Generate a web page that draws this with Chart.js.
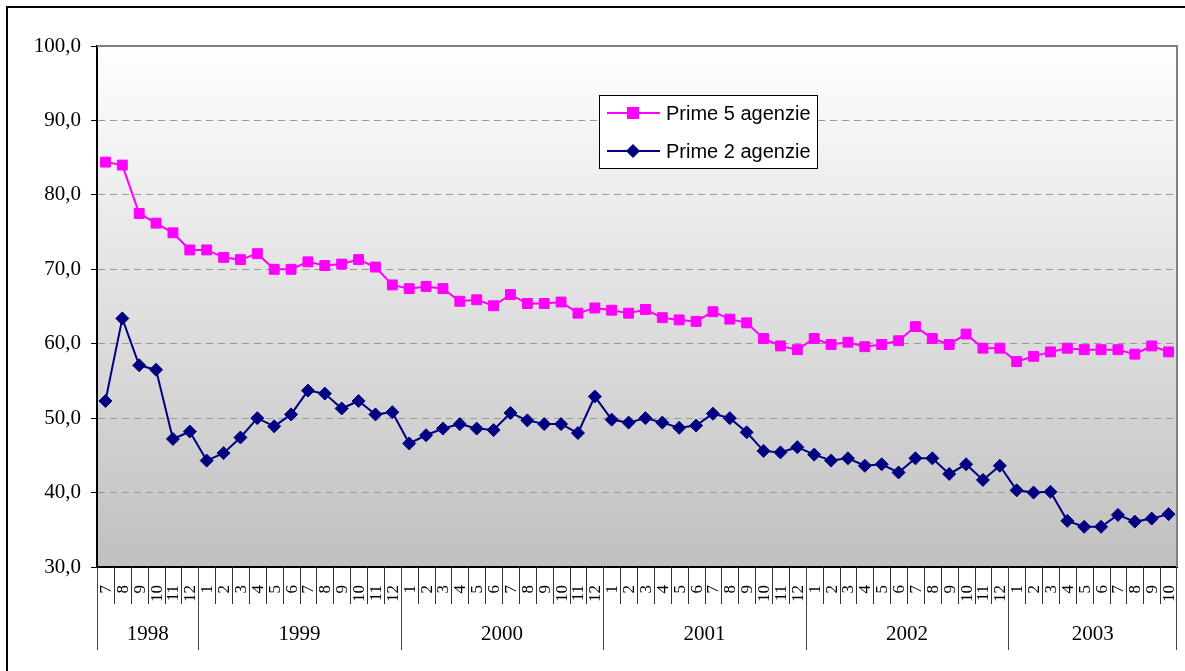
<!DOCTYPE html>
<html>
<head>
<meta charset="utf-8">
<script src="https://cdn.jsdelivr.net/npm/chart.js@4/dist/chart.umd.min.js"></script>
<style>
  html, body { margin: 0; padding: 0; background: #fff; }
  #wrap { width: 1185px; height: 671px; position: relative; }
</style>
</head>
<body>
<div id="wrap"><canvas id="myChart" width="1185" height="671"></canvas></div>
<script>
// data (share %, monthly)
const years = ['1998', '1999', '2000', '2001', '2002', '2003'];
const monthsInYear = [6, 12, 12, 12, 12, 10];
const months = [
    '7', '8', '9', '10', '11', '12',
    '1', '2', '3', '4', '5', '6', '7', '8', '9', '10', '11', '12',
    '1', '2', '3', '4', '5', '6', '7', '8', '9', '10', '11', '12',
    '1', '2', '3', '4', '5', '6', '7', '8', '9', '10', '11', '12',
    '1', '2', '3', '4', '5', '6', '7', '8', '9', '10', '11', '12',
    '1', '2', '3', '4', '5', '6', '7', '8', '9', '10'
];
const prime5 = [
    84.4, 84.0, 77.5, 76.2, 74.9, 72.6,
    72.6, 71.6, 71.3, 72.1, 70.0, 70.0, 71.0, 70.5, 70.7, 71.3, 70.3, 67.9,
    67.4, 67.7, 67.4, 65.7, 65.9, 65.1, 66.6, 65.4, 65.4, 65.6, 64.1, 64.8,
    64.5, 64.1, 64.6, 63.5, 63.2, 63.0, 64.3, 63.3, 62.8, 60.7, 59.7, 59.2,
    60.7, 59.9, 60.2, 59.6, 59.9, 60.4, 62.3, 60.7, 59.9, 61.3, 59.4, 59.4,
    57.6, 58.3, 58.9, 59.4, 59.2, 59.2, 59.2, 58.6, 59.7, 58.9
];
const prime2 = [
    52.3, 63.4, 57.1, 56.5, 47.2, 48.2,
    44.3, 45.3, 47.4, 50.0, 48.9, 50.5, 53.7, 53.3, 51.3, 52.3, 50.5, 50.8,
    46.6, 47.7, 48.6, 49.2, 48.6, 48.4, 50.7, 49.7, 49.2, 49.2, 48.0, 52.9,
    49.8, 49.4, 50.0, 49.4, 48.7, 49.0, 50.6, 50.0, 48.1, 45.6, 45.4, 46.1,
    45.1, 44.3, 44.6, 43.6, 43.8, 42.7, 44.6, 44.6, 42.5, 43.8, 41.7, 43.6,
    40.3, 40.0, 40.1, 36.2, 35.4, 35.4, 37.0, 36.1, 36.5, 37.1
];
const seriesNames = ['Prime 5 agenzie', 'Prime 2 agenzie'];
const yMin = 30, yMax = 100, yStep = 10;

const PINK = '#ff00ff';
const NAVY = '#000080';
const SERIF = '"Liberation Serif", "Times New Roman", serif';
const SANS = '"Liberation Sans", Arial, sans-serif';

// gradient plot background + outer frame
const backdrop = {
    id: 'backdrop',
    beforeDraw(chart) {
        const { ctx, chartArea: a } = chart;
        ctx.save();
        const g = ctx.createLinearGradient(0, a.top, 0, a.bottom);
        g.addColorStop(0, '#ffffff');
        g.addColorStop(1, '#c0c0c0');
        ctx.fillStyle = g;
        ctx.fillRect(a.left, a.top, a.right - a.left, a.bottom - a.top);
        ctx.strokeStyle = '#000';
        ctx.lineWidth = 2;
        ctx.strokeRect(7, 7, 1300, 800);
        ctx.restore();
    }
};

// two level category axis, plot border and legend
const extras = {
    id: 'extras',
    afterDraw(chart) {
        const { ctx, chartArea: a } = chart;
        const x = chart.scales.x;
        const step = x.getPixelForValue(1) - x.getPixelForValue(0);
        const edge = i => x.getPixelForValue(i) - step / 2;
        const base = a.bottom;
        ctx.save();

        // plot border top / right
        ctx.strokeStyle = '#808080';
        ctx.lineWidth = 2;
        ctx.beginPath();
        ctx.moveTo(a.left, a.top);
        ctx.lineTo(a.right, a.top);
        ctx.lineTo(a.right, a.bottom);
        ctx.stroke();

        // month separators
        ctx.strokeStyle = '#333';
        ctx.lineWidth = 1;
        ctx.beginPath();
        for (let i = 1; i < months.length; i++) {
            const px = Math.round(edge(i)) + 0.5;
            ctx.moveTo(px, base);
            ctx.lineTo(px, base + 37);
        }
        ctx.stroke();

        // month labels
        ctx.fillStyle = '#000';
        ctx.font = '17px ' + SERIF;
        ctx.textAlign = 'right';
        ctx.textBaseline = 'middle';
        months.forEach((m, i) => {
            ctx.save();
            ctx.translate(x.getPixelForValue(i) + 1, base + 18);
            ctx.rotate(-Math.PI / 2);
            ctx.fillText(m, 0, 0);
            ctx.restore();
        });

        // year separators + labels
        ctx.strokeStyle = '#444';
        ctx.beginPath();
        let start = 0;
        ctx.font = '21px ' + SERIF;
        ctx.textAlign = 'center';
        years.forEach((y, k) => {
            const end = start + monthsInYear[k];
            const x0 = k === 0 ? a.left : edge(start);
            const x1 = end === months.length ? a.right : edge(end);
            ctx.moveTo(Math.round(x0) + 0.5, base);
            ctx.lineTo(Math.round(x0) + 0.5, base + 83);
            if (end === months.length) {
                ctx.moveTo(Math.round(x1) - 0.5, base);
                ctx.lineTo(Math.round(x1) - 0.5, base + 83);
            }
            ctx.fillText(y, (x0 + x1) / 2, base + 67);
            start = end;
        });
        ctx.stroke();

        // legend
        const lx = 599.5, ly = 95.5, lw = 218, lh = 73;
        ctx.fillStyle = '#fff';
        ctx.fillRect(lx, ly, lw, lh);
        ctx.strokeStyle = '#000';
        ctx.lineWidth = 1;
        ctx.strokeRect(lx, ly, lw, lh);
        const rows = [
            { name: seriesNames[0], color: PINK, y: 113, marker: 'rect' },
            { name: seriesNames[1], color: NAVY, y: 151, marker: 'diamond' }
        ];
        rows.forEach(r => {
            ctx.strokeStyle = r.color;
            ctx.fillStyle = r.color;
            ctx.lineWidth = 2;
            ctx.beginPath();
            ctx.moveTo(607, r.y);
            ctx.lineTo(660, r.y);
            ctx.stroke();
            ctx.beginPath();
            if (r.marker === 'rect') {
                ctx.rect(627, r.y - 6, 12, 12);
            } else {
                ctx.moveTo(633, r.y - 7);
                ctx.lineTo(640, r.y);
                ctx.lineTo(633, r.y + 7);
                ctx.lineTo(626, r.y);
                ctx.closePath();
            }
            ctx.fill();
            ctx.fillStyle = '#000';
            ctx.font = '20px ' + SANS;
            ctx.textAlign = 'left';
            ctx.textBaseline = 'middle';
            ctx.fillText(r.name, 666, r.y + 1);
        });

        ctx.restore();
    }
};

const ctx = document.getElementById('myChart');
const myChart = new Chart(ctx, {
    type: 'line',
    data: {
        labels: months,
        datasets: [{
                label: seriesNames[0],
                data: prime5,
                borderColor: PINK,
                backgroundColor: PINK,
                borderWidth: 2,
                pointStyle: 'rect',
                pointRadius: 7,
                pointBorderWidth: 1,
                tension: 0,
                clip: false
            },
            {
                label: seriesNames[1],
                data: prime2,
                borderColor: NAVY,
                backgroundColor: NAVY,
                borderWidth: 2,
                pointStyle: 'rectRot',
                pointRadius: 6.5,
                pointBorderWidth: 1,
                tension: 0,
                clip: false
            }
        ]
    },
    options: {
        responsive: false,
        animation: false,
        devicePixelRatio: 1,
        layout: { padding: { top: 46, right: 5, left: 0, bottom: 0 } },
        plugins: {
            legend: { display: false },
            tooltip: { enabled: false }
        },
        scales: {
            x: {
                type: 'category',
                offset: true,
                grid: { display: false },
                border: { color: '#000', width: 2 },
                ticks: { display: false },
                afterFit: s => { s.height = 104; }
            },
            y: {
                min: yMin,
                max: yMax,
                ticks: {
                    stepSize: yStep,
                    padding: 10,
                    color: '#000',
                    font: { family: SERIF, size: 21 },
                    callback: v => v.toFixed(1).replace('.', ',')
                },
                grid: {
                    color: c => (c.tick && (c.tick.value === yMin || c.tick.value === yMax)) ? 'rgba(0,0,0,0)' : '#9a9a9a',
                    tickColor: '#000',
                    tickLength: 6,
                    lineWidth: 1
                },
                border: { color: '#000', width: 2, dash: [7, 5] },
                afterFit: s => { s.width = 97; }
            }
        }
    },
    plugins: [backdrop, extras]
});
</script>
</body>
</html>
